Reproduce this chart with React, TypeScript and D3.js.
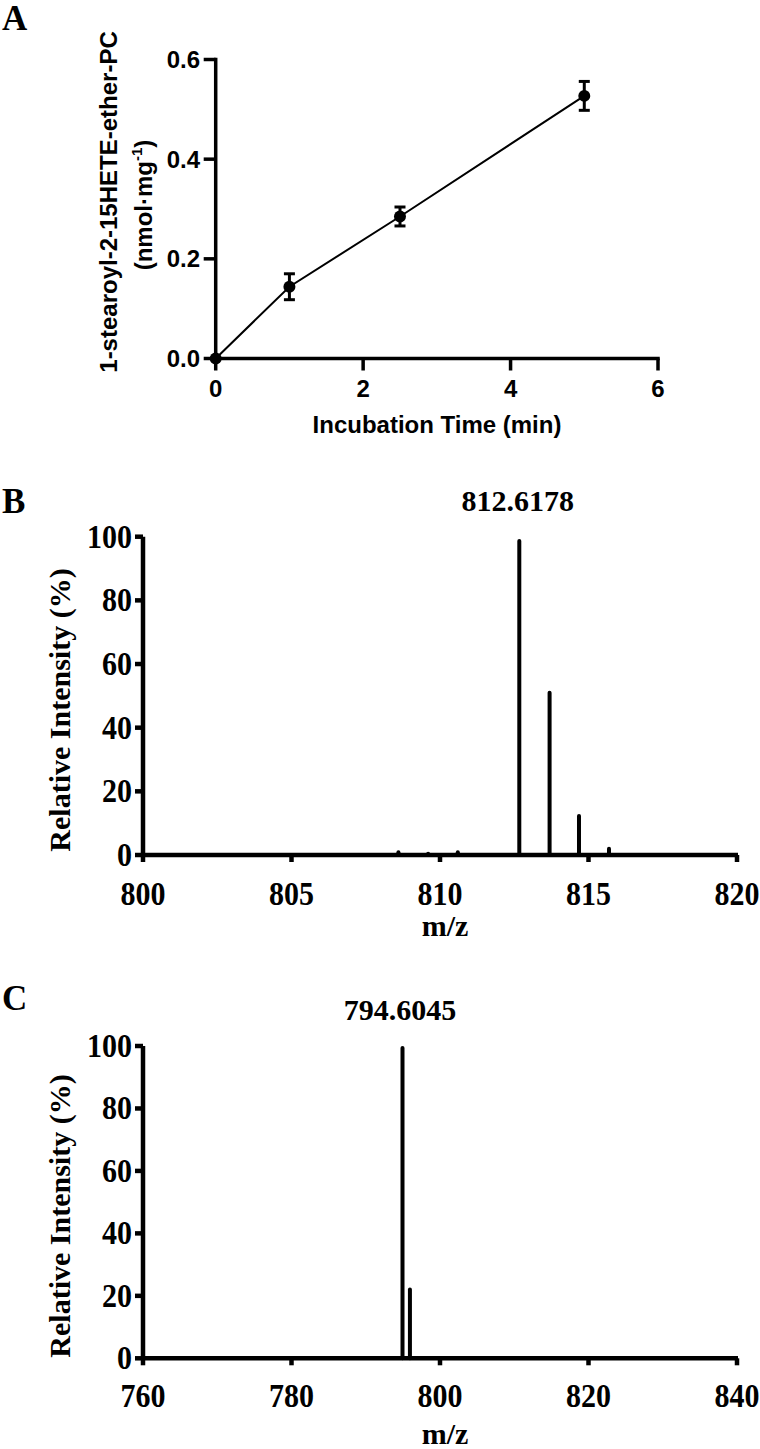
import React from 'react';
import * as d3 from 'd3';

// Panel A data
const timeMin = [0, 1, 2.5, 5];
const etherPC = [0, 0.144, 0.285, 0.527];
const etherPCErr = [0, 0.026, 0.019, 0.029];
const aXTicks = [0, 2, 4, 6];
const aYTicks = [0, 0.2, 0.4, 0.6];

// Panel B data
const bMz = [808.6, 809.6, 810.6, 812.67, 813.69, 814.68, 815.69];
const bIntensity = [1.5, 1.0, 1.5, 99.3, 51.6, 12.9, 2.6];
const bXTicks = [800, 805, 810, 815, 820];
const bLabelValue = 812.6178;
const bLabel = '812.6178';

// Panel C data
const cMz = [794.95, 795.95];
const cIntensity = [100, 22.7];
const cXTicks = [760, 780, 800, 820, 840];
const cLabelValue = 794.6045;
const cLabel = '794.6045';

const intensityTicks = [0, 20, 40, 60, 80, 100];

const SANS = "'Liberation Sans', Arial, Helvetica, sans-serif";
const SERIF = "'Liberation Serif', 'Times New Roman', Times, serif";

function PanelA() {
  const x = d3.scaleLinear().domain([0, 6]).range([215.7, 658]);
  const y = d3.scaleLinear().domain([0, 0.6]).range([358.5, 59.5]);
  const line = d3.line<number>().x((_, i) => x(timeMin[i])).y((d) => y(d));
  const x0 = x(0);
  const y0 = y(0);
  const fs = 24;
  return (
    <g>
      <text x={2} y={30} fontFamily={SERIF} fontWeight="bold" fontSize={35}>A</text>
      {/* axes */}
      <line x1={x0} x2={x0} y1={y(0)} y2={y(0.6)} stroke="#000" strokeWidth={3.5} strokeLinecap="square" />
      <line x1={x0} x2={x(6)} y1={y0} y2={y0} stroke="#000" strokeWidth={3.5} strokeLinecap="square" />
      {aYTicks.map((t) => (
        <g key={'ay' + t}>
          <line x1={x0 - 12} x2={x0} y1={y(t)} y2={y(t)} stroke="#000" strokeWidth={3.5} />
          <text x={200} y={y(t)} dy="0.36em" textAnchor="end" fontFamily={SANS} fontWeight="bold" fontSize={fs}>{t.toFixed(1)}</text>
        </g>
      ))}
      {aXTicks.map((t) => (
        <g key={'ax' + t}>
          <line x1={x(t)} x2={x(t)} y1={y0} y2={y0 + 12} stroke="#000" strokeWidth={3.5} />
          <text x={x(t)} y={397} textAnchor="middle" fontFamily={SANS} fontWeight="bold" fontSize={fs}>{t}</text>
        </g>
      ))}
      <text x={437} y={433} textAnchor="middle" fontFamily={SANS} fontWeight="bold" fontSize={fs}>Incubation Time (min)</text>
      <text transform={`translate(117,202) rotate(-90)`} textAnchor="middle" fontFamily={SANS} fontWeight="bold" fontSize={fs}>1-stearoyl-2-15HETE-ether-PC</text>
      <text transform={`translate(152,205) rotate(-90)`} textAnchor="middle" fontFamily={SANS} fontWeight="bold" fontSize={fs}>
        (nmol·mg<tspan fontSize={15} dy={-10}>-1</tspan><tspan dy={10}>)</tspan>
      </text>
      {/* data */}
      <path d={line(etherPC) || ''} fill="none" stroke="#000" strokeWidth={2} />
      {etherPC.map((v, i) => {
        const e = etherPCErr[i];
        const cx = x(timeMin[i]);
        return (
          <g key={'pt' + i}>
            {e > 0 && (
              <g stroke="#000" strokeWidth={3}>
                <line x1={cx} x2={cx} y1={y(v - e)} y2={y(v + e)} />
                <line x1={cx - 5.5} x2={cx + 5.5} y1={y(v - e)} y2={y(v - e)} />
                <line x1={cx - 5.5} x2={cx + 5.5} y1={y(v + e)} y2={y(v + e)} />
              </g>
            )}
            <circle cx={cx} cy={y(v)} r={6} fill="#000" />
          </g>
        );
      })}
    </g>
  );
}

interface SpecProps {
  letter: string;
  letterY: number;
  domain: [number, number];
  xTicks: number[];
  yRange: [number, number];
  mz: number[];
  inten: number[];
  labelValue: number;
  label: string;
  labelY: number;
  tickLabelY: number;
  mzLabelY: number;
  titleY: number;
}

function Spectrum(p: SpecProps) {
  const x = d3.scaleLinear().domain(p.domain).range([143, 737]);
  const y = d3.scaleLinear().domain([0, 100]).range(p.yRange);
  const x0 = x(p.domain[0]);
  const y0 = y(0);
  const sw = 4.5;
  const stretch = 1.12;
  return (
    <g>
      <text x={2} y={p.letterY} fontFamily={SERIF} fontWeight="bold" fontSize={35}>{p.letter}</text>
      {/* peaks */}
      {p.mz.map((m, i) => (
        <line key={'pk' + i} x1={x(m)} x2={x(m)} y1={y0} y2={Math.min(y(p.inten[i]) + 2, y0)} stroke="#000" strokeWidth={4} strokeLinecap="round" />
      ))}
      {/* axes */}
      <line x1={x0} x2={x0} y1={y0} y2={y(100)} stroke="#000" strokeWidth={sw} />
      <line x1={x0 - 1} x2={x(p.domain[1]) + 1} y1={y0} y2={y0} stroke="#000" strokeWidth={sw} />
      {intensityTicks.map((t) => (
        <g key={'y' + t}>
          <line x1={x0 - 8} x2={x0} y1={y(t)} y2={y(t)} stroke="#000" strokeWidth={sw} />
          <text transform={`translate(132,${y(t) + 11}) scale(1,${stretch})`} textAnchor="end" fontFamily={SERIF} fontWeight="bold" fontSize={30}>{t}</text>
        </g>
      ))}
      {p.xTicks.map((t) => (
        <g key={'x' + t}>
          <line x1={x(t)} x2={x(t)} y1={y0} y2={y0 + 7} stroke="#000" strokeWidth={sw} />
          <text transform={`translate(${x(t)},${p.tickLabelY}) scale(1,${stretch})`} textAnchor="middle" fontFamily={SERIF} fontWeight="bold" fontSize={30}>{t}</text>
        </g>
      ))}
      <text x={445} y={p.mzLabelY} textAnchor="middle" fontFamily={SERIF} fontWeight="bold" fontSize={30}>m/z</text>
      <text transform={`translate(70,${p.titleY}) rotate(-90)`} textAnchor="middle" fontFamily={SERIF} fontWeight="bold" fontSize={30}>Relative Intensity (%)</text>
      <text x={x(p.labelValue)} y={p.labelY} textAnchor="middle" fontFamily={SERIF} fontWeight="bold" fontSize={30}>{p.label}</text>
    </g>
  );
}

export default function App() {
  return (
    <svg width={760} height={1449} viewBox="0 0 760 1449" style={{ position: 'absolute', left: 0, top: 0, background: '#fff' }}>
      <rect x={0} y={0} width={760} height={1449} fill="#fff" />
      <PanelA />
      <Spectrum
        letter="B"
        letterY={513}
        domain={[800, 820]}
        xTicks={bXTicks}
        yRange={[855, 536.7]}
        mz={bMz}
        inten={bIntensity}
        labelValue={bLabelValue}
        label={bLabel}
        labelY={511}
        tickLabelY={905}
        mzLabelY={936}
        titleY={710}
      />
      <Spectrum
        letter="C"
        letterY={1010}
        domain={[760, 840]}
        xTicks={cXTicks}
        yRange={[1358.3, 1046]}
        mz={cMz}
        inten={cIntensity}
        labelValue={cLabelValue}
        label={cLabel}
        labelY={1020}
        tickLabelY={1407}
        mzLabelY={1444}
        titleY={1216}
      />
    </svg>
  );
}
